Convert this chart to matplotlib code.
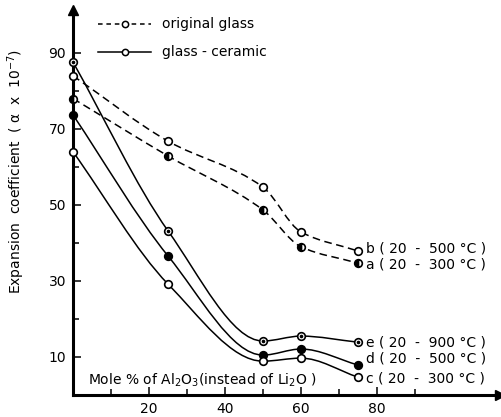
import numpy as np
import matplotlib
matplotlib.use("Agg")
import matplotlib.pyplot as plt
from matplotlib.path import Path
from matplotlib.patches import PathPatch

# Mole % of Al2O3 replacing Li2O
x_mole = [0, 25, 50, 60, 75]

# Original glass (dashed)
glass_b = [84.0, 66.8, 54.7, 42.9, 37.9]   # 20 - 500 °C
glass_a = [78.0, 62.9, 48.7, 39.0, 34.7]   # 20 - 300 °C

# Glass-ceramic (solid)
cer_e = [87.6, 43.2, 14.2, 15.5, 13.9]     # 20 - 900 °C
cer_d = [73.7, 36.6, 10.5, 12.1, 7.9]      # 20 - 500 °C
cer_c = [64.0, 29.2, 8.9, 9.7, 4.7]        # 20 - 300 °C

labels = {
    "b": "b ( 20  -  500 °C )",
    "a": "a ( 20  -  300 °C )",
    "e": "e ( 20  -  900 °C )",
    "d": "d ( 20  -  500 °C )",
    "c": "c ( 20  -  300 °C )",
}

plt.rcParams["font.family"] = ["DejaVu Sans"]

fig = plt.figure(figsize=(5.01, 4.17), dpi=100)
ax = fig.add_axes([73 / 501, 22 / 417, (500 - 73) / 501, (395 - 10) / 417])
ax.set_xlim(0, 112.4)
ax.set_ylim(0, 101.3)


def smooth_path(xs, ys):
    """Shape-preserving (PCHIP-style) curve through the points as Bezier segments."""
    x = np.asarray(xs, float)
    y = np.asarray(ys, float)
    h = np.diff(x)
    s = np.diff(y) / h
    n = len(x)
    d = np.zeros(n)
    for i in range(1, n - 1):
        if s[i - 1] * s[i] <= 0:
            d[i] = 0.0
        else:
            w1 = 2 * h[i] + h[i - 1]
            w2 = h[i] + 2 * h[i - 1]
            d[i] = (w1 + w2) / (w1 / s[i - 1] + w2 / s[i])
    d[0] = s[0]
    d[-1] = s[-1]
    verts = [(x[0], y[0])]
    codes = [Path.MOVETO]
    for i in range(n - 1):
        dx = h[i] / 3.0
        verts += [(x[i] + dx, y[i] + d[i] * dx),
                  (x[i + 1] - dx, y[i + 1] - d[i + 1] * dx),
                  (x[i + 1], y[i + 1])]
        codes += [Path.CURVE4] * 3
    return Path(verts, codes)


def draw_series(ys, ls, marker_kw):
    patch = PathPatch(smooth_path(x_mole, ys), fill=False, edgecolor="black",
                      lw=1.1, linestyle=ls, clip_on=False)
    ax.add_patch(patch)
    ax.plot(x_mole, ys, linestyle="none", marker="o", markersize=5.5,
            markeredgecolor="black", markeredgewidth=1.2, clip_on=False,
            zorder=5, **marker_kw)


dash = (0, (5, 3))
open_kw = dict(markerfacecolor="white")
half_kw = dict(markerfacecolor="black", fillstyle="left", markerfacecoloralt="white")
full_kw = dict(markerfacecolor="black")

draw_series(glass_b, dash, open_kw)
draw_series(glass_a, dash, half_kw)
draw_series(cer_e, "-", open_kw)
draw_series(cer_d, "-", full_kw)
draw_series(cer_c, "-", open_kw)
# centre dot for the 20-900 °C markers
ax.plot(x_mole, cer_e, linestyle="none", marker="o", markersize=1.6,
        color="black", zorder=6, clip_on=False)

# curve labels at the right-hand ends
fs = 10
lx = 77.0
ax.text(lx, glass_b[-1] + 0.6, labels["b"], fontsize=fs, va="center")
ax.text(lx, glass_a[-1] - 0.3, labels["a"], fontsize=fs, va="center")
ax.text(lx, cer_e[-1], labels["e"], fontsize=fs, va="center")
ax.text(lx, cer_d[-1] + 1.6, labels["d"], fontsize=fs, va="center")
ax.text(lx, cer_c[-1] - 0.3, labels["c"], fontsize=fs, va="center")

# axis description inside the plot
ax.text(4.0, 3.8, "Mole % of Al$_2$O$_3$(instead of Li$_2$O )", fontsize=fs,
        va="center")

# legend drawn by hand
def legend_row(y, ls, text):
    ax.plot([6.6, 20.5], [y, y], color="black", lw=1.1, linestyle=ls, clip_on=False)
    ax.plot([13.7], [y], marker="o", markersize=4.5, markerfacecolor="white",
            markeredgecolor="black", markeredgewidth=1.1, clip_on=False, zorder=5)
    ax.text(23.3, y, text, fontsize=fs, va="center")

legend_row(97.5, (0, (3, 2.5)), "original glass")
legend_row(90.2, "-", "glass - ceramic")

# axes styling
for side in ("top", "right"):
    ax.spines[side].set_visible(False)
for side in ("left", "bottom"):
    ax.spines[side].set_linewidth(2.2)

ax.set_xticks([20, 40, 60, 80])
ax.set_xticks([10, 30, 50, 70, 90], minor=True)
ax.set_yticks([10, 30, 50, 70, 90])
ax.set_yticks([20, 40, 60, 80], minor=True)
ax.tick_params(axis="both", which="major", direction="in", length=6, width=1.1,
               labelsize=fs, pad=5)
ax.tick_params(axis="both", which="minor", direction="in", length=4, width=1.1)

ax.set_ylabel("Expansion  coefficient  ( \u03b1  x  10$^{-7}$)", fontsize=fs)
ax.yaxis.set_label_coords(-0.108, 0.58)

# arrow heads on the axes
ax.plot(1, 0, ">k", markersize=7, transform=ax.transAxes, clip_on=False)
ax.plot(0, 1, "^k", markersize=7, transform=ax.transAxes, clip_on=False)

fig.savefig("out.png", dpi=100)
